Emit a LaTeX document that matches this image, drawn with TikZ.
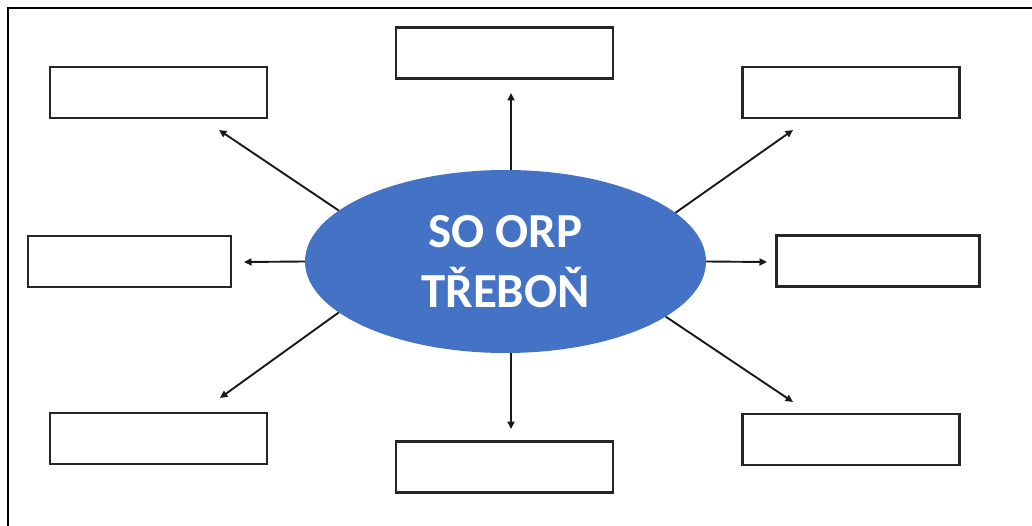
\documentclass[tikz,border=0pt]{standalone}
\usepackage{fontspec}
\setmainfont{Carlito}
\usetikzlibrary{arrows.meta,shapes.geometric}
\definecolor{ellblue}{HTML}{4472C4}
\definecolor{boxline}{HTML}{262626}
\tikzset{
  emptybox/.style={draw=boxline, line width=2.2pt, fill=white, minimum width=217pt, minimum height=51pt, inner sep=0pt},
  widebox/.style={emptybox, minimum width=203pt},
  link/.style={line width=1.9pt, draw=black!90, -{Triangle[length=7.5pt,width=7pt]}},
  hub/.style={ellipse, fill=ellblue, minimum width=401pt, minimum height=183pt, inner sep=0pt,
    text=white, font=\fontsize{49}{60}\selectfont\bfseries, align=center}
}
\begin{document}
\begin{tikzpicture}[x=1pt,y=-1pt]
\useasboundingbox (0,0) rectangle (1032,526);
\draw[line width=2pt, black] (8,526) -- (8,8) -- (1032,8);

\node[emptybox] (bTL) at (158.5,92.5) {};
\node[emptybox] (bT)  at (504.5,53) {};
\node[emptybox] (bTR) at (851,92.5) {};
\node[widebox]  (bML) at (129.5,261.5) {};
\node[widebox]  (bMR) at (878,261) {};
\node[emptybox] (bBL) at (158.5,438.5) {};
\node[emptybox] (bB)  at (504.5,467) {};
\node[emptybox] (bBR) at (851,439.5) {};

\coordinate (tTL) at (219,130);
\coordinate (tT)  at (511,93);
\coordinate (tTR) at (793,130);
\coordinate (tML) at (244,262);
\coordinate (tMR) at (767,262);
\coordinate (tBL) at (220,398);
\coordinate (tB)  at (511,429);
\coordinate (tBR) at (793,402);

\node[hub] (c) at (505.5,261.5) {SO ORP\\TŘEBOŇ};

\draw[link] (c.163.5) -- (tTL);
\draw[link] (c.north -| tT) -- (tT);
\draw[link] (c.16.8) -- (tTR);
\draw[link] (c.west) -- (tML);
\draw[link] (c.east) -- (tMR);
\draw[link] (c.197.7) -- (tBL);
\draw[link] (c.south -| tB) -- (tB);
\draw[link] (c.341.4) -- (tBR);
\end{tikzpicture}
\end{document}
